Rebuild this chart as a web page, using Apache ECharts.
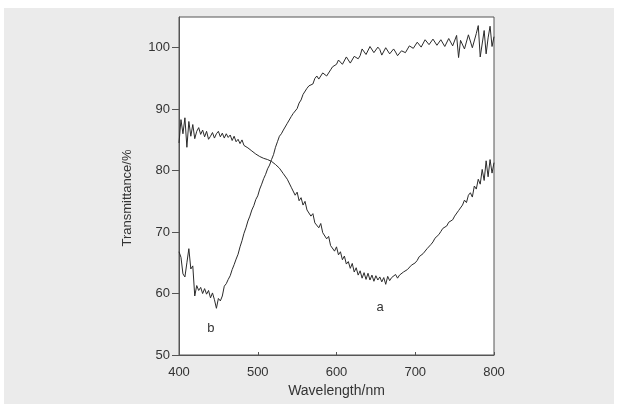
<!DOCTYPE html>
<html>
<head>
<meta charset="utf-8">
<script src="https://cdn.jsdelivr.net/npm/echarts@6/dist/echarts.min.js"></script>
<style>
  html, body { margin: 0; padding: 0; background: #fff; }
  #paper { position: absolute; left: 4px; top: 8px; width: 610px; height: 396px; background: #ebebeb; }
  #chart { position: absolute; left: 0; top: 0; width: 618px; height: 404px; }
</style>
</head>
<body>
<div id="paper"></div>
<div id="chart"></div>
<script>
// wavelength, nm (2.5 nm steps)
const wavelengths = [
  400, 402.5, 405, 407.5, 410, 412.5, 415, 417.5, 420, 422.5,
  425, 427.5, 430, 432.5, 435, 437.5, 440, 442.5, 445, 447.5,
  450, 452.5, 455, 457.5, 460, 462.5, 465, 467.5, 470, 472.5,
  475, 477.5, 480, 482.5, 485, 487.5, 490, 492.5, 495, 497.5,
  500, 502.5, 505, 507.5, 510, 512.5, 515, 517.5, 520, 522.5,
  525, 527.5, 530, 532.5, 535, 537.5, 540, 542.5, 545, 547.5,
  550, 552.5, 555, 557.5, 560, 562.5, 565, 567.5, 570, 572.5,
  575, 577.5, 580, 582.5, 585, 587.5, 590, 592.5, 595, 597.5,
  600, 602.5, 605, 607.5, 610, 612.5, 615, 617.5, 620, 622.5,
  625, 627.5, 630, 632.5, 635, 637.5, 640, 642.5, 645, 647.5,
  650, 652.5, 655, 657.5, 660, 662.5, 665, 667.5, 670, 672.5,
  675, 677.5, 680, 682.5, 685, 687.5, 690, 692.5, 695, 697.5,
  700, 702.5, 705, 707.5, 710, 712.5, 715, 717.5, 720, 722.5,
  725, 727.5, 730, 732.5, 735, 737.5, 740, 742.5, 745, 747.5,
  750, 752.5, 755, 757.5, 760, 762.5, 765, 767.5, 770, 772.5,
  775, 777.5, 780, 782.5, 785, 787.5, 790, 792.5, 795, 797.5,
  800
];

// transmittance %, curve a
const curveA = [
  84.5, 88.3, 86.0, 88.6, 83.8, 88.0, 85.6, 87.5, 85.2, 86.4,
  87.0, 85.9, 86.6, 85.5, 86.4, 85.1, 85.6, 86.2, 85.3, 86.0,
  86.4, 85.5, 86.1, 85.3, 86.0, 85.4, 85.8, 84.9, 85.6, 84.7,
  85.1, 84.4, 85.0, 84.1, 84.4, 83.7, 83.6, 83.2, 83.4, 82.7,
  82.8, 82.3, 82.4, 82.0, 82.3, 81.8, 81.9, 81.5, 81.6, 81.0,
  80.8, 80.4, 80.1, 79.5, 79.2, 78.6, 78.5, 77.3, 77.4, 76.0,
  76.5, 75.1, 75.6, 74.4, 75.0, 73.6, 73.9, 72.6, 73.0, 71.5,
  71.8, 70.7, 71.4, 69.9, 70.2, 68.9, 69.3, 67.8, 68.0, 66.9,
  67.6, 66.3, 66.8, 65.5, 66.1, 64.8, 65.2, 64.1, 64.9, 63.5,
  64.2, 63.0, 63.7, 62.5, 63.4, 62.3, 63.3, 62.2, 63.0, 62.0,
  62.9, 62.2, 62.7, 61.9, 62.6, 61.5, 62.8, 62.1, 62.6, 62.3,
  63.1, 62.5, 63.0, 62.8, 63.5, 63.4, 63.9, 64.1, 64.6, 64.5,
  65.0, 65.4, 66.0, 65.8, 66.5, 66.7, 67.3, 67.4, 68.0, 68.4,
  69.0, 69.0, 69.6, 70.1, 70.6, 70.5, 71.0, 71.6, 71.8, 72.0,
  72.6, 72.9, 73.5, 73.2, 74.4, 75.2, 74.8, 76.0, 76.4, 75.7,
  77.5, 77.0, 78.6, 77.8, 80.2, 78.4, 81.6, 79.0, 81.8, 79.6,
  81.3
];

// transmittance %, curve b
const curveB = [
  66.8, 65.9, 63.2, 62.7, 65.0, 67.3, 64.0, 64.5, 59.6, 61.3,
  60.5, 61.0, 60.0, 60.8, 59.9, 60.5, 59.3, 60.1, 59.0, 57.6,
  59.2, 58.8, 59.6, 61.2, 61.6, 62.3, 62.9, 63.9, 64.7, 65.6,
  66.4, 67.6, 68.6, 69.8, 70.7, 71.8, 72.6, 73.6, 74.3, 75.3,
  75.9, 77.0, 77.8, 78.7, 79.4, 80.3, 80.9, 81.8, 82.6, 83.8,
  84.7, 85.6, 86.0, 86.6, 86.9, 87.7, 88.0, 88.8, 89.3, 89.7,
  90.1, 91.0, 91.5, 92.4, 92.6, 93.4, 93.8, 93.5, 94.1, 95.0,
  95.4, 94.9, 95.2, 95.9, 95.8, 95.4, 95.6, 96.4, 96.9, 96.8,
  97.3, 98.0, 98.2, 97.3, 97.4, 98.5, 98.3, 97.5, 97.6, 98.6,
  98.9, 98.2, 98.7, 99.8, 99.6, 98.9, 98.8, 100.2, 100.0, 99.2,
  99.0, 100.1, 99.7, 98.8, 98.9, 100.0, 99.9, 99.0, 99.1, 99.8,
  99.3, 98.7, 98.8, 99.5, 99.6, 99.2, 99.5, 100.3, 100.4, 99.9,
  100.0, 100.9, 100.8, 100.1, 100.2, 101.3, 101.4, 100.5, 100.6, 101.4,
  101.2, 100.4, 100.5, 101.3, 101.1, 100.2, 100.4, 101.5, 101.3, 100.3,
  100.6, 102.0, 98.4, 101.2, 101.5, 99.8, 100.0, 102.1, 101.8, 100.0,
  100.3, 102.3, 103.6, 98.5, 98.7, 102.8, 99.0, 101.6, 103.5, 100.2,
  101.8
];

const xTicks = [400, 500, 600, 700, 800];
const yTicks = [50, 60, 70, 80, 90, 100];

const curveNames = ['a', 'b'];
const curveLabelAt = [[655.5, 57.8], [440.6, 54.3]];

const font = 'Liberation Sans, Arial, sans-serif';
const textColor = '#333';
const axisColor = '#555';

const pairs = (ys) => wavelengths.map((w, i) => [w, ys[i]]);

const lineSeries = (name, ys, at) => ({
  name: name,
  type: 'line',
  data: pairs(ys),
  showSymbol: false,
  symbol: 'none',
  lineStyle: { color: '#2b2b2b', width: 1 },
  silent: true,
  markPoint: {
    symbol: 'rect',
    symbolSize: 1,
    silent: true,
    itemStyle: { color: 'rgba(0,0,0,0)' },
    label: {
      show: true, position: 'inside', formatter: name,
      color: textColor, fontSize: 13, fontFamily: font
    },
    data: [{ coord: at }]
  }
});

const chart = echarts.init(document.getElementById('chart'), null, { renderer: 'canvas' });

chart.setOption({
  backgroundColor: 'transparent',
  animation: false,
  grid: {
    left: 179, right: 124, top: 17, bottom: 49,
    show: true, backgroundColor: '#fff', borderColor: axisColor, borderWidth: 1
  },
  xAxis: {
    type: 'value',
    min: xTicks[0],
    max: xTicks[xTicks.length - 1],
    interval: 100,
    name: 'Wavelength/nm',
    nameLocation: 'middle',
    nameGap: 29,
    nameTextStyle: { color: textColor, fontSize: 14, fontFamily: font },
    axisLine: { lineStyle: { color: axisColor, width: 1 } },
    axisTick: { inside: true, length: 3, lineStyle: { color: axisColor } },
    axisLabel: { color: textColor, fontSize: 13, fontFamily: font, margin: 11 },
    splitLine: { show: false }
  },
  yAxis: {
    type: 'value',
    min: yTicks[0],
    max: 105,
    interval: 10,
    name: 'Transmittance/%',
    nameLocation: 'middle',
    nameGap: 45,
    nameTextStyle: { color: textColor, fontSize: 13, fontFamily: font, padding: [0, 24, 0, 0] },
    axisLine: { show: true, lineStyle: { color: axisColor, width: 1 } },
    axisTick: { show: true, inside: false, length: 7, lineStyle: { color: axisColor } },
    axisLabel: {
      color: textColor, fontSize: 13, fontFamily: font, margin: 9,
      showMaxLabel: false,
      formatter: (v) => (yTicks.indexOf(v) >= 0 ? String(v) : '')
    },
    splitLine: { show: false }
  },
  series: [
    lineSeries(curveNames[0], curveA, curveLabelAt[0]),
    lineSeries(curveNames[1], curveB, curveLabelAt[1])
  ]
});
</script>
</body>
</html>
